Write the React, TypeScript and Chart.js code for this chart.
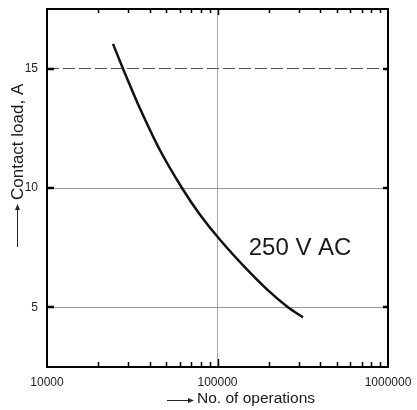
import React, { useEffect, useRef } from "react";
import { Chart, registerables } from "chart.js";

Chart.register(...registerables);

const operations = [24380, 27910, 35120, 46000, 61900, 78970, 103440, 145000, 195100, 259100, 317300];
const contactLoad = [16.04, 15.0, 13.33, 11.58, 10.0, 8.88, 7.83, 6.67, 5.75, 5.0, 4.58];
const xTickValues = [10000, 100000, 1000000];
const yTickValues = [5, 10, 15];
const minorXTicks = [20000, 30000, 40000, 50000, 60000, 70000, 80000, 90000, 200000, 300000, 400000, 500000, 600000, 700000, 800000, 900000];
const seriesLabel = "250 V AC";
const seriesLabelAt = { x: 305000, y: 7.45 };
const xTitle = "No. of operations";
const yTitle = "Contact load, A";

const FONT = "'Liberation Sans', Arial, sans-serif";

export default function App() {
  const ref = useRef<HTMLCanvasElement>(null);
  useEffect(() => {
    document.body.style.margin = "0";
    const canvas = ref.current!;
    const decor = {
      id: "decor",
      afterDraw(chart: any) {
        const { ctx, chartArea: a, scales } = chart;
        const xs = scales.x, ys = scales.y;
        ctx.save();
        ctx.strokeStyle = "#000";
        ctx.lineWidth = 2;
        ctx.strokeRect(a.left, a.top, a.right - a.left, a.bottom - a.top);
        ctx.lineWidth = 1.5;
        ctx.beginPath();
        for (const v of minorXTicks) {
          const px = Math.round(xs.getPixelForValue(v)) + 0.5;
          ctx.moveTo(px, a.bottom); ctx.lineTo(px, a.bottom - 5);
          ctx.moveTo(px, a.top); ctx.lineTo(px, a.top + 4);
        }
        const mid = Math.round(xs.getPixelForValue(xTickValues[1])) + 0.5;
        ctx.moveTo(mid, a.bottom); ctx.lineTo(mid, a.bottom - 8);
        ctx.moveTo(mid, a.top); ctx.lineTo(mid, a.top + 6);
        ctx.stroke();
        ctx.lineWidth = 2.5;
        ctx.beginPath();
        for (const v of yTickValues) {
          const py = Math.round(ys.getPixelForValue(v));
          ctx.moveTo(a.left, py); ctx.lineTo(a.left + 7, py);
          ctx.moveTo(a.right, py); ctx.lineTo(a.right - 5, py);
        }
        ctx.stroke();
        ctx.fillStyle = "#1a1a1a";
        ctx.font = `24px ${FONT}`;
        ctx.textAlign = "center";
        ctx.textBaseline = "middle";
        ctx.fillText(seriesLabel, xs.getPixelForValue(seriesLabelAt.x), ys.getPixelForValue(seriesLabelAt.y));
        ctx.font = `15.5px ${FONT}`;
        ctx.textAlign = "left";
        ctx.fillText(xTitle, 197, 399);
        ctx.strokeStyle = "#222";
        ctx.lineWidth = 1;
        ctx.beginPath();
        ctx.moveTo(167, 400.5); ctx.lineTo(190, 400.5);
        ctx.stroke();
        ctx.beginPath();
        ctx.moveTo(194, 400.5); ctx.lineTo(188, 398); ctx.lineTo(188, 403); ctx.closePath();
        ctx.fillStyle = "#222"; ctx.fill();
        ctx.save();
        ctx.translate(18, 200);
        ctx.rotate(-Math.PI / 2);
        ctx.fillStyle = "#1a1a1a";
        ctx.font = `17px ${FONT}`;
        ctx.textAlign = "left";
        ctx.textBaseline = "middle";
        ctx.fillText(yTitle, 0, 0);
        ctx.restore();
        ctx.beginPath();
        ctx.moveTo(17.5, 247); ctx.lineTo(17.5, 208);
        ctx.stroke();
        ctx.beginPath();
        ctx.moveTo(17.5, 204); ctx.lineTo(15, 210); ctx.lineTo(20, 210); ctx.closePath();
        ctx.fillStyle = "#222"; ctx.fill();
        ctx.restore();
      },
    };
    const chart = new Chart(canvas, {
      type: "line",
      data: {
        datasets: [
          {
            data: operations.map((x, i) => ({ x, y: contactLoad[i] })),
            borderColor: "#111",
            borderWidth: 2.5,
            pointRadius: 0,
            tension: 0.3,
            fill: false,
          },
        ],
      },
      options: {
        responsive: false,
        animation: false,
        layout: { padding: { top: 9, right: 29, left: 0, bottom: 0 } },
        plugins: { legend: { display: false }, tooltip: { enabled: false } },
        scales: {
          x: {
            type: "logarithmic",
            min: 10000,
            max: 1000000,
            afterBuildTicks: (s: any) => { s.ticks = xTickValues.map((v) => ({ value: v })); },
            afterFit: (s: any) => { s.height = 43; s.paddingLeft = 0; s.paddingRight = 0; },
            ticks: {
              padding: 8,
              color: "#222",
              font: { size: 12, family: FONT },
              callback: (v: any) => String(v),
              maxRotation: 0,
              autoSkip: false,
            },
            grid: {
              drawTicks: false,
              color: (c: any) => (c.tick && c.tick.value === 100000 ? "#aaa" : "rgba(0,0,0,0)"),
              lineWidth: 1,
            },
            border: { display: false },
          },
          y: {
            type: "linear",
            min: 2.5,
            max: 17.5,
            afterBuildTicks: (s: any) => { s.ticks = yTickValues.map((v) => ({ value: v })); },
            afterFit: (s: any) => { s.width = 47; s.paddingTop = 0; s.paddingBottom = 0; },
            ticks: {
              padding: 9,
              color: "#222",
              font: { size: 12, family: FONT },
            },
            grid: {
              drawTicks: false,
              color: (c: any) => (c.tick && c.tick.value === 15 ? "#555" : "#999"),
              lineWidth: 1,
            },
            border: {
              display: false,
              dash: (c: any) => (c.tick && c.tick.value === 15 ? [12, 4] : []),
            },
          },
        },
      },
      plugins: [decor],
    } as any);
    return () => chart.destroy();
  }, []);
  return (
    <div style={{ width: 417, height: 410 }}>
      <canvas ref={ref} width={417} height={410} style={{ display: "block", background: "#fff" }} />
    </div>
  );
}
